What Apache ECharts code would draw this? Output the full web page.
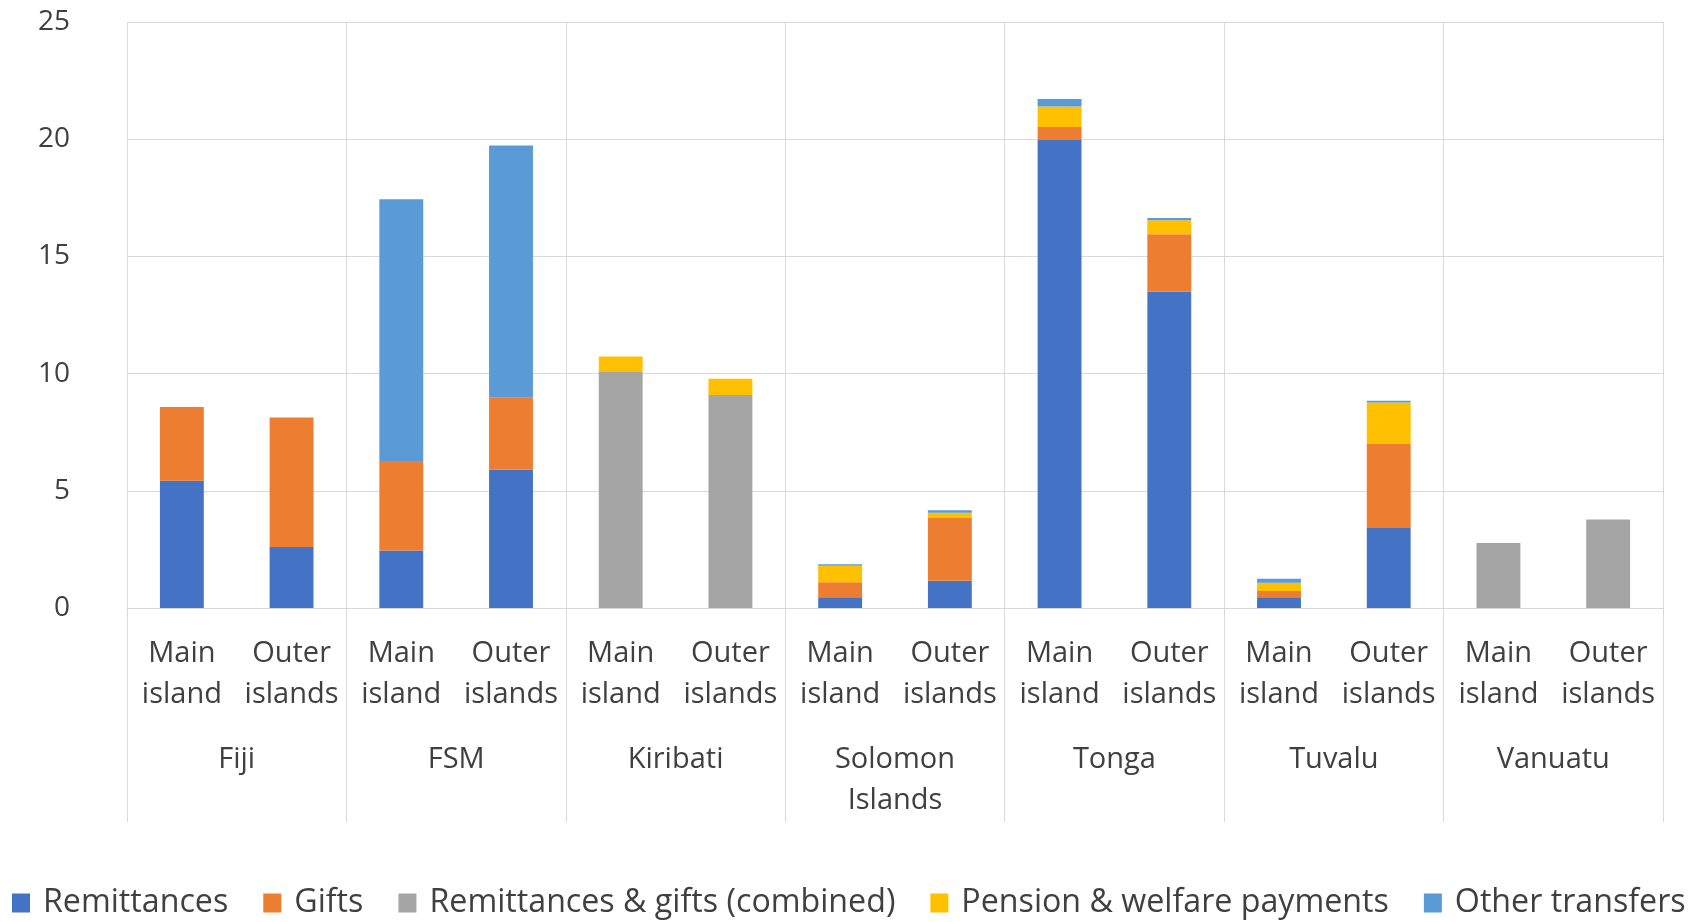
<!DOCTYPE html>
<html>
<head>
<meta charset="utf-8">
<title>Transfers by island group</title>
<script src="https://cdn.jsdelivr.net/npm/echarts@6/dist/echarts.min.js"></script>
<style>
  html, body { margin: 0; padding: 0; background: #ffffff; }
  #chart { width: 1708px; height: 922px; }
</style>
</head>
<body>
<div id="chart"></div>
<script>
// Island groups within each country (inner axis level)
const islandGroups = [
  'Main\nisland', 'Outer\nislands', 'Main\nisland', 'Outer\nislands',
  'Main\nisland', 'Outer\nislands', 'Main\nisland', 'Outer\nislands',
  'Main\nisland', 'Outer\nislands', 'Main\nisland', 'Outer\nislands',
  'Main\nisland', 'Outer\nislands'
];

// Countries (outer axis level)
const countries = ['Fiji', 'FSM', 'Kiribati', 'Solomon\nIslands', 'Tonga', 'Tuvalu', 'Vanuatu'];

// Value axis ticks
const yMin = 0;
const yMax = 25;
const yStep = 5;

// Series values, one per island group (null where not reported)
const remittances = [5.43, 2.6, 2.45, 5.9, null, null, 0.46, 1.16, 19.97, 13.49, 0.46, 3.41, null, null];
const gifts = [3.15, 5.53, 3.82, 3.07, null, null, 0.64, 2.7, 0.55, 2.45, 0.27, 3.59, null, null];
const combined = [null, null, null, null, 10.07, 9.09, null, null, null, null, null, null, 2.77, 3.78];
const pension = [null, null, null, null, 0.66, 0.69, 0.7, 0.2, 0.88, 0.6, 0.35, 1.77, null, null];
const otherTransfers = [null, null, 11.17, 10.76, null, null, 0.07, 0.11, 0.32, 0.1, 0.17, 0.07, null, null];

const seriesNames = [
  'Remittances',
  'Gifts',
  'Remittances & gifts (combined)',
  'Pension & welfare payments',
  'Other transfers'
];
const seriesValues = [remittances, gifts, combined, pension, otherTransfers];
const seriesColors = ['#4472C4', '#ED7D31', '#A5A5A5', '#FFC000', '#5B9BD5'];

const FONT = '"Open Sans", "Noto Sans", sans-serif';
const TEXT = '#404040';
const GRID_LINE = '#D9D9D9';

const chart = echarts.init(document.getElementById('chart'), null, { renderer: 'canvas' });

chart.setOption({
  animation: false,
  backgroundColor: '#ffffff',
  textStyle: { fontFamily: FONT, color: TEXT },
  color: seriesColors,
  grid: { left: 127, right: 45, top: 22, bottom: 314, containLabel: false },
  legend: {
    data: seriesNames,
    left: 12,
    right: 0,
    top: 887,
    padding: 0,
    icon: 'rect',
    itemWidth: 18,
    itemHeight: 19,
    itemGap: 35,
    textStyle: { fontFamily: FONT, fontSize: 32.2, color: TEXT, padding: [0, 0, 0, 8] }
  },
  xAxis: [
    {
      type: 'category',
      data: islandGroups,
      position: 'bottom',
      axisLine: { show: true, lineStyle: { color: GRID_LINE, width: 1 } },
      axisTick: { show: false },
      splitLine: { show: false },
      axisLabel: {
        interval: 0,
        margin: 25,
        fontFamily: FONT,
        fontSize: 29,
        lineHeight: 41,
        color: TEXT,
        align: 'center'
      }
    },
    {
      type: 'category',
      data: countries,
      position: 'bottom',
      axisLine: { show: false },
      axisTick: {
        show: true,
        interval: 0,
        length: 214,
        lineStyle: { color: GRID_LINE, width: 1 }
      },
      splitLine: { show: true, interval: 0, lineStyle: { color: GRID_LINE, width: 1 } },
      axisLabel: {
        interval: 0,
        margin: 131,
        fontFamily: FONT,
        fontSize: 29,
        lineHeight: 41,
        color: TEXT,
        align: 'center'
      }
    }
  ],
  yAxis: {
    type: 'value',
    min: yMin,
    max: yMax,
    interval: yStep,
    axisLine: { show: false },
    axisTick: { show: false },
    splitLine: { show: true, lineStyle: { color: GRID_LINE, width: 1 } },
    axisLabel: {
      margin: 57,
      fontFamily: FONT,
      fontSize: 28,
      color: TEXT
    }
  },
  series: seriesNames.map((name, i) => ({
    name: name,
    type: 'bar',
    stack: 'total',
    xAxisIndex: 0,
    barWidth: '40%',
    data: seriesValues[i],
    itemStyle: { color: seriesColors[i] },
    emphasis: { disabled: true }
  }))
});
</script>
</body>
</html>
